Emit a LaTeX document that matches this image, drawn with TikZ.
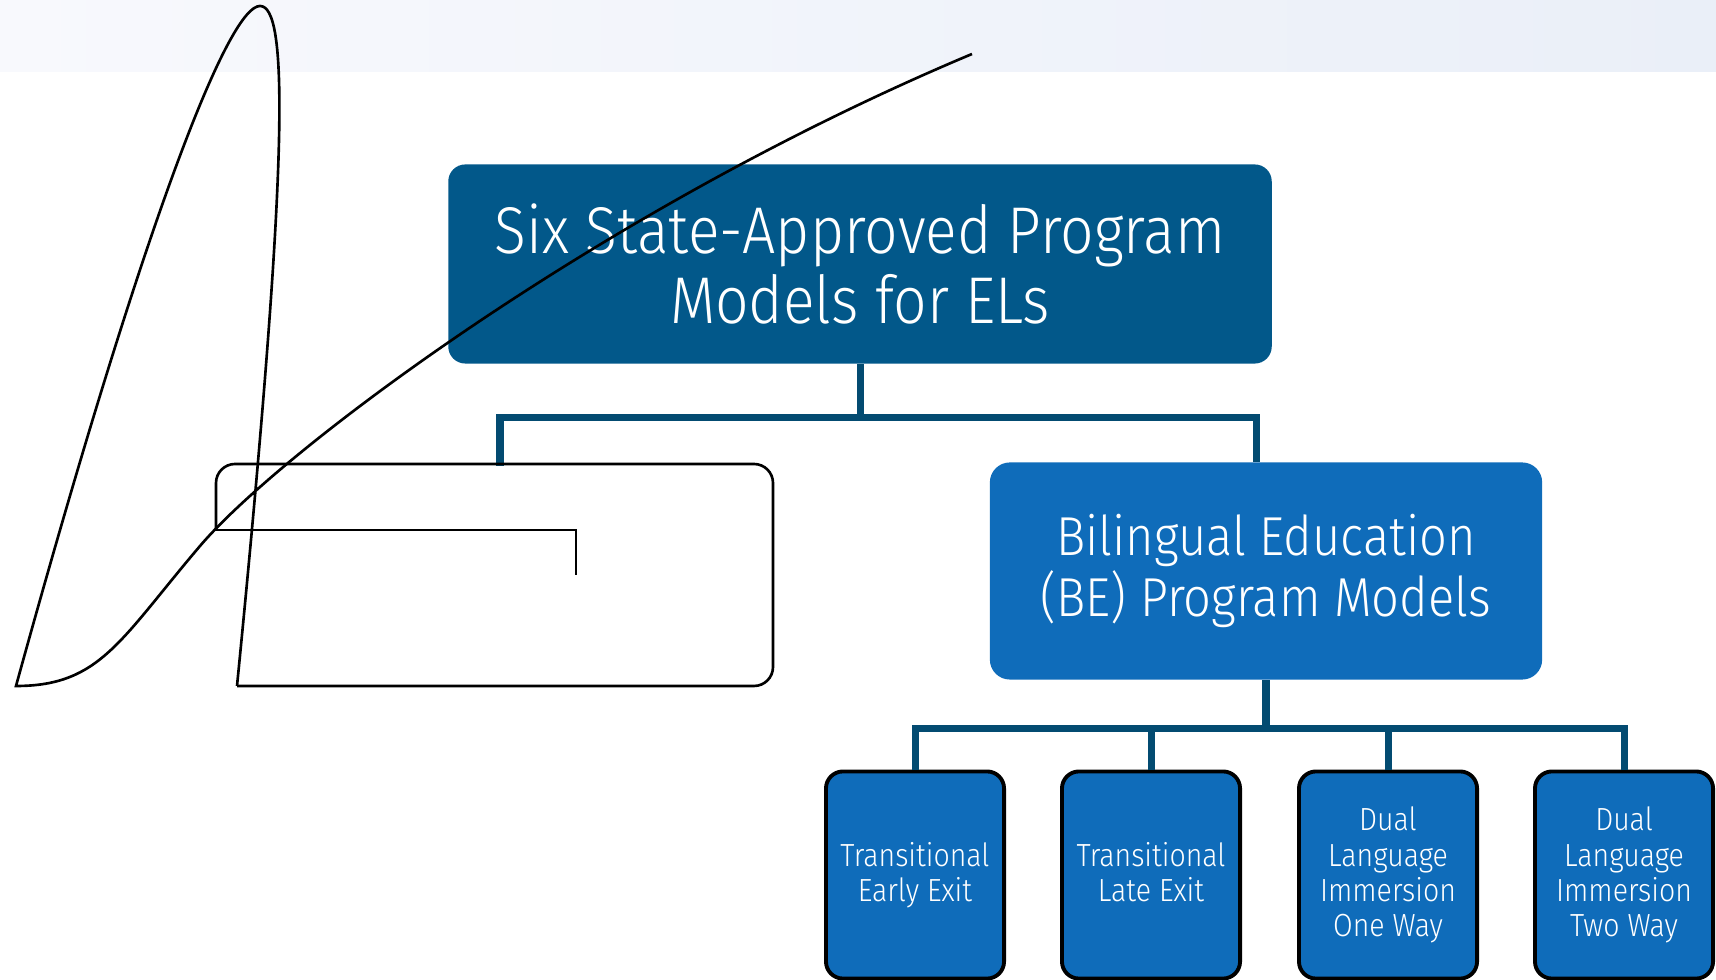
\documentclass[tikz,border=0pt]{standalone}
\usepackage{fontspec}
\newfontfamily\lightsf{Fira Sans Light}[FakeStretch=0.89]
\definecolor{topblue}{HTML}{02588A}
\definecolor{beblue}{HTML}{0F6CBA}
\definecolor{linkblue}{HTML}{034B71}
\definecolor{hdrleft}{HTML}{F8F9FD}
\definecolor{hdrright}{HTML}{EAEFF8}

\begin{document}
\begin{tikzpicture}[x=0.01cm,y=-0.01cm,
	topbox/.style={fill=topblue, rounded corners=0.17cm, minimum width=8.23cm, minimum height=1.99cm,
		text=white, align=center, font=\lightsf\fontsize{18.8}{19.9}\selectfont},
	bebox/.style={fill=beblue, rounded corners=0.2cm, minimum width=5.52cm, minimum height=2.17cm,
		text=white, align=center, font=\lightsf\fontsize{15.6}{16.2}\selectfont},
	leafbox/.style={draw=black, line width=1.1pt, fill=beblue, rounded corners=0.17cm, minimum width=1.78cm,
		minimum height=2.07cm, text=white, align=center, font=\lightsf\fontsize{9.1}{10}\selectfont,
		execute at end node={\vphantom{y}}},
	conn/.style={draw=linkblue, line width=2pt},
	wire/.style={draw=black, line width=0.75pt}]
		\useasboundingbox (0,0) rectangle (1716,980);
		\shade [left color=hdrleft, right color=hdrright] (0,0) rectangle (1716,72);
		% boxes
		\node [topbox] (top) at (860,264) {Six State-Approved Program\\Models for ELs};
		\node [bebox] (be) at (1266,571) {Bilingual Education\\(BE) Program Models};
		\node [leafbox] (te) at (915,875) {Transitional\\Early Exit};
		\node [leafbox] (tl) at (1151,875) {Transitional\\Late Exit};
		\node [leafbox] (dlo) at (1388,875) {Dual\\Language\\Immersion\\One Way};
		\node [leafbox] (dlt) at (1624,875) {Dual\\Language\\Immersion\\Two Way};
		\coordinate (lft) at (500,466);
		% connectors
		\draw [conn] (top.south) -- ++(0,53) -| (lft);
		\draw [conn] (top.south) ++(0,53) -| ([xshift=-1mm]be.north);
		\draw [conn][line width=2.5pt] (be.south) -- ++(0,48) coordinate (bj);
		\foreach \leaf in {te,tl,dlo,dlt}
			\draw [conn] (bj) -| (\leaf.north);
		% broken outline on the left
		\draw [wire] (576,575) -- (576,530) -- (216,530);
		\draw [wire][rounded corners=0.19cm] (216,531) -- (216,464) -- (773,464) -- (773,686) -- (237,686);
		\draw [wire] (237,686) .. controls (290,150) and (288,6) .. (260,6)
			.. controls (230,6) and (150,200) .. (16,686)
			.. controls (100,686) and (120,640) .. (200,546)
			.. controls (280,452) and (600,210) .. (972,54);
	\end{tikzpicture}
\end{document}
